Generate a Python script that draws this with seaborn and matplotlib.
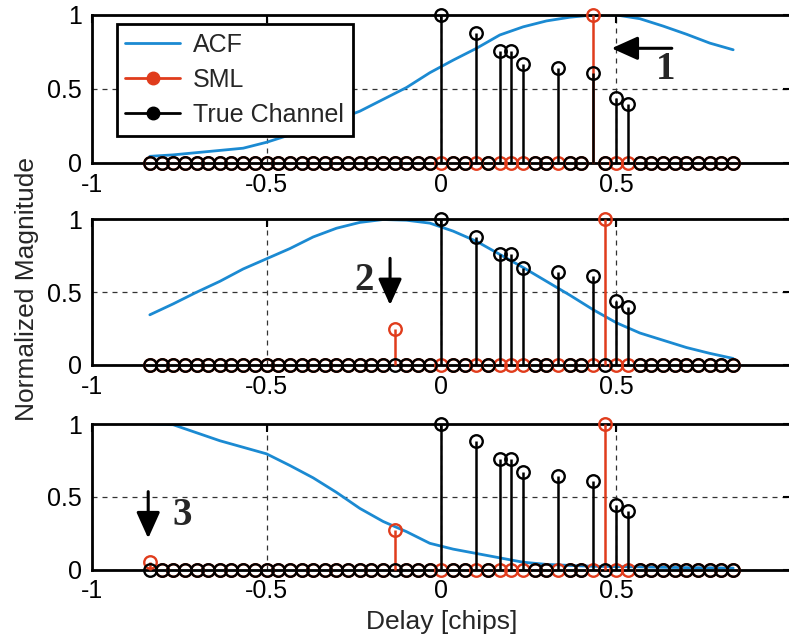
import numpy as np
import pandas as pd
import matplotlib
matplotlib.use("Agg")
import matplotlib.pyplot as plt
from matplotlib.lines import Line2D
from matplotlib.legend_handler import HandlerLine2D
import seaborn as sns

# ---- data -------------------------------------------------------------
# delay grid of the estimator (chips), 1/30-chip resolution
grid_idx = np.arange(-25, 26)
delay_grid = grid_idx / 30.0

# true multipath channel: tap positions (grid index) and magnitudes
true_tap_idx = [0, 3, 5, 6, 7, 10, 13, 15, 16]
true_tap_mag = [1.0, 0.88, 0.76, 0.76, 0.67, 0.64, 0.61, 0.44, 0.40]

# SML estimates per stage: tap positions (grid index) and magnitudes
sml1_idx = [13]
sml1_mag = [1.0]
sml2_idx = [-4, 14]
sml2_mag = [0.25, 1.0]
sml3_idx = [-25, -4, 14]
sml3_mag = [0.05, 0.27, 1.0]

# autocorrelation function of the residual per stage, 1/15-chip steps
acf_delay = np.arange(-25, 26, 2) / 30.0
acf1 = [0.045, 0.055, 0.07, 0.085, 0.10, 0.14, 0.19, 0.24, 0.29, 0.35, 0.43, 0.51, 0.61,
        0.695, 0.775, 0.865, 0.92, 0.96, 0.985, 1.0, 1.0, 0.975, 0.925, 0.87, 0.81, 0.765]
acf2 = [0.345, 0.42, 0.50, 0.575, 0.66, 0.73, 0.80, 0.88, 0.94, 0.98, 1.0, 0.995, 0.975,
        0.92, 0.85, 0.76, 0.67, 0.575, 0.48, 0.38, 0.29, 0.22, 0.17, 0.12, 0.08, 0.045]
acf3 = [1.0, 0.995, 0.94, 0.885, 0.84, 0.795, 0.715, 0.63, 0.53, 0.42, 0.33, 0.26, 0.18,
        0.14, 0.11, 0.08, 0.05, 0.035, 0.028, 0.022, 0.02, 0.018, 0.015, 0.013, 0.012, 0.01]

x_ticks = [-1, -0.5, 0, 0.5, 1]
x_ticklabels = ["-1", "-0.5", "0", "0.5", ""]
y_ticks = [0, 0.5, 1]
y_ticklabels = ["0", "0.5", "1"]

BLUE = "#1b8ad2"
RED = "#e03c1c"
BLACK = "#000000"


def on_grid(idx, mag):
    full = np.zeros(len(grid_idx))
    for i, m in zip(idx, mag):
        full[i + 25] = m
    return full


true_full = on_grid(true_tap_idx, true_tap_mag)
stages = [
    (acf1, on_grid(sml1_idx, sml1_mag)),
    (acf2, on_grid(sml2_idx, sml2_mag)),
    (acf3, on_grid(sml3_idx, sml3_mag)),
]

# ---- style ------------------------------------------------------------
sns.set_style("white")
plt.rcParams["font.family"] = ["Liberation Sans", "DejaVu Sans"]
plt.rcParams["axes.unicode_minus"] = False

W, H = 789, 641
fig = plt.figure(figsize=(W / 100, H / 100), dpi=100)

# axes boxes in pixels: (top, bottom); x spans -1..1 over 700 px
x_left, x_span = 91.5, 700.0
boxes = [(15.0, 163.0), (219.5, 365.0), (424.0, 569.5)]

axes = []
for top, bot in boxes:
    ax = fig.add_axes([x_left / W, 1 - bot / H, x_span / W, (bot - top) / H])
    axes.append(ax)

MS, MEW, LW = 9.0, 1.7, 1.8

for ax, (acf, sml) in zip(axes, stages):
    ax.set_xlim(-1, 1)
    ax.set_ylim(0, 1)
    ax.set_axisbelow(True)
    ax.grid(True, linestyle=(0, (4, 4)), color="#333333", linewidth=0.9)

    sns.lineplot(x=acf_delay, y=acf, ax=ax, color=BLUE, linewidth=2.0, zorder=2)

    for vals, col, z in [(sml, RED, 3), (true_full, BLACK, 4)]:
        cont = ax.stem(delay_grid, vals, linefmt="-", markerfmt="o", basefmt=" ")
        cont.stemlines.set_color(col)
        cont.stemlines.set_linewidth(LW)
        cont.stemlines.set_zorder(z)
        cont.stemlines.set_clip_on(False)
        cont.markerline.set_color(col)
        cont.markerline.set_markerfacecolor("none")
        cont.markerline.set_markeredgecolor(col)
        cont.markerline.set_markersize(MS)
        cont.markerline.set_markeredgewidth(MEW)
        cont.markerline.set_zorder(z + 0.5)
        cont.markerline.set_clip_on(False)

    ax.set_xticks(x_ticks)
    ax.set_xticklabels(x_ticklabels)
    ax.set_yticks(y_ticks)
    ax.set_yticklabels(y_ticklabels)
    ax.tick_params(direction="in", length=6, width=1.5, labelsize=18,
                   top=True, right=True, pad=7, colors="black")
    for sp in ax.spines.values():
        sp.set_linewidth(2.0)
        sp.set_color("black")
        sp.set_visible(True)


# legend: line with marker at its right end
class EndMarkerHandler(HandlerLine2D):
    def get_xdata(self, legend, xdescent, ydescent, width, height, fontsize):
        xdata = np.array([-xdescent, -xdescent + width])
        return xdata, np.array([xdata[-1]])


handles = [
    Line2D([], [], color=BLUE, linewidth=2.0),
    Line2D([], [], color=RED, linewidth=2.0, marker="o", markersize=9,
           markerfacecolor=RED, markeredgecolor=RED),
    Line2D([], [], color=BLACK, linewidth=2.0, marker="o", markersize=9,
           markerfacecolor=BLACK, markeredgecolor=BLACK),
]
leg = axes[0].legend(handles, ["ACF", "SML", "True Channel"],
                     loc="upper left", bbox_to_anchor=(0.036, 0.94),
                     fontsize=18, frameon=True, fancybox=False, framealpha=1,
                     edgecolor="black", handlelength=2.2, handletextpad=0.5,
                     borderpad=0.35, labelspacing=0.45, borderaxespad=0,
                     handler_map={Line2D: EndMarkerHandler()})
leg.get_frame().set_linewidth(2.0)
leg.set_zorder(10)

# stage annotations
arrow_kw = dict(arrowstyle="-|>,head_length=1.6,head_width=0.72",
                color="black", lw=2.2, mutation_scale=10, shrinkA=0, shrinkB=0)
num_kw = dict(fontsize=28, fontweight="bold", ha="center", va="center",
              family=["Liberation Serif", "DejaVu Serif"], zorder=12)

axes[0].annotate("", xy=(0.486, 0.775), xytext=(0.658, 0.775), arrowprops=arrow_kw)
axes[0].text(0.639, 0.63, "1", **num_kw)

axes[1].annotate("", xy=(-0.147, 0.412), xytext=(-0.147, 0.733), arrowprops=arrow_kw)
axes[1].text(-0.221, 0.584, "2", **num_kw)

axes[2].annotate("", xy=(-0.838, 0.214), xytext=(-0.838, 0.535), arrowprops=arrow_kw)
axes[2].text(-0.74, 0.368, "3", **num_kw)

fig.text(27 / W, 1 - 289 / H, "Normalized Magnitude", rotation=90,
         ha="center", va="center", fontsize=19)
fig.text(441.5 / W, 1 - 622 / H, "Delay [chips]", ha="center", va="center", fontsize=19)

fig.savefig("out.png", dpi=100)
